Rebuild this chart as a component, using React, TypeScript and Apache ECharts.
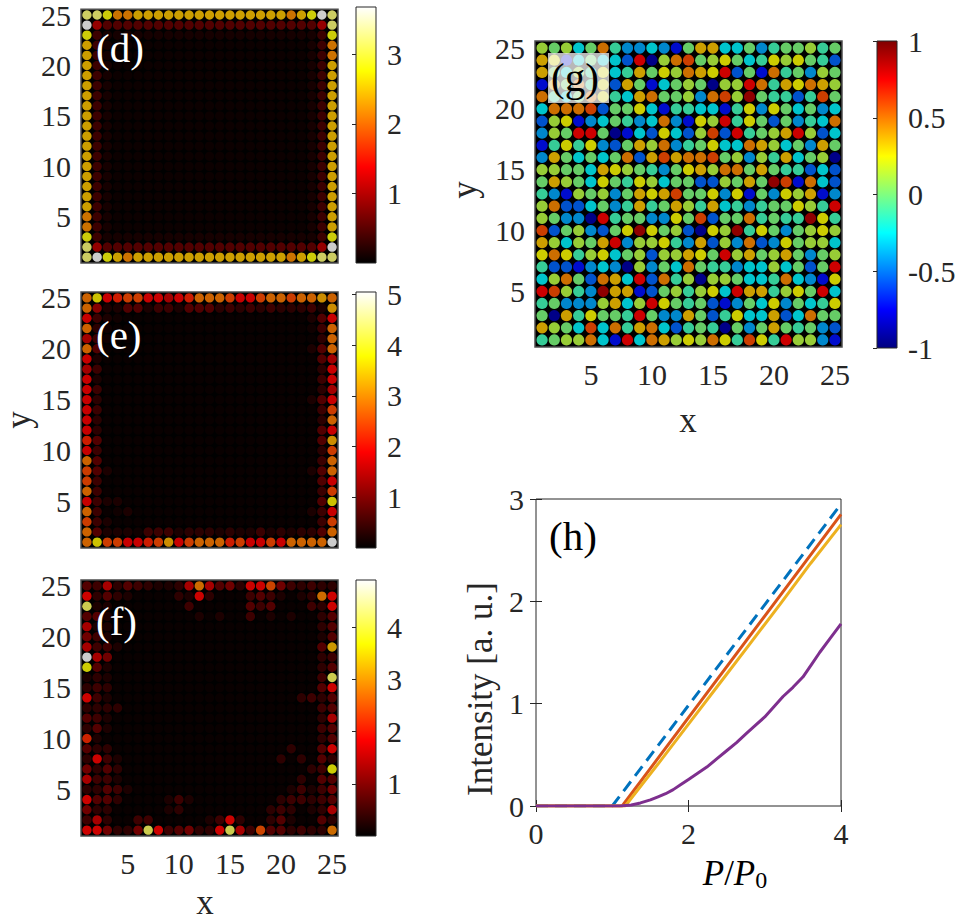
import React, { useEffect, useRef } from "react";
import * as echarts from "echarts";

// ---------------------------------------------------------------------------
// Lattice maps: one string per row, listed from y = 25 (top) down to y = 1,
// one character per site x = 1..25 (spaces only group the columns in fives).
// Intensity maps (d)-(f) use HEAT_LEVELS, phase map (g) uses PHASE_LEVELS.
// ---------------------------------------------------------------------------
const HEAT_LEVELS: Record<string, number> = {
  ".": 0.08, "0": 0.15, "1": 0.25, "2": 0.4, "3": 0.55, "4": 0.75, "5": 1.0,
  "6": 1.25, "7": 1.5, "8": 1.85, "9": 2.15, a: 2.45, b: 2.8, c: 3.2,
  d: 3.45, e: 3.7, f: 4.15, g: 4.5, h: 4.8, i: 5.05,
};

const PHASE_LEVELS: Record<string, number> = {
  "0": -0.92, "1": -0.72, "2": -0.55, "3": -0.42, "4": -0.27, "5": -0.12,
  "6": 0.0, "7": 0.12, "8": 0.25, "9": 0.36, a: 0.48, b: 0.6, c: 0.75, d: 0.9,
};

const mapD = [
  "ccb99 aaaaa aaaaa aaaaa 9abec",
  "e5333 33333 33333 33333 3335c",
  "b2000 00000 00000 00000 0002b",
  "a20.. ..... ..... ..... ..029",
  "a20.. ..... ..... ..... ..029",
  "a20.. ..... ..... ..... ..02a",
  "a20.. ..... ..... ..... ..02a",
  "a20.. ..... ..... ..... ..02a",
  "a20.. ..... ..... ..... ..02a",
  "a20.. ..... ..... ..... ..02a",
  "a20.. ..... ..... ..... ..02a",
  "a20.. ..... ..... ..... ..02a",
  "a20.. ..... ..... ..... ..02a",
  "a20.. ..... ..... ..... ..02a",
  "a20.. ..... ..... ..... ..02a",
  "a20.. ..... ..... ..... ..02a",
  "a20.. ..... ..... ..... ..02a",
  "a20.. ..... ..... ..... ..02a",
  "a20.. ..... ..... ..... ..02a",
  "a20.. ..... ..... ..... ..02a",
  "920.. ..... ..... ..... ..02a",
  "920.. ..... ..... ..... ..02a",
  "b2000 00000 00000 00000 0002b",
  "c5333 33333 33333 33333 3335e",
  "ceba9 aaaaa aaaaa aaaaa 9abcc",
];

const mapE = [
  "be89a a8878 9bbba 88abb abbcb",
  "b6114 41331 44423 23232 2231c",
  "8310. ..... ..... ..... ..148",
  "b20.. ..... ..... ..... ..03b",
  "730.. ..... ..... ..... ...2b",
  "b4... ..... ..... ..... ..14b",
  "81... ..... ..... ..... ...47",
  "73... ..... ..... ..... ...28",
  "81... ..... ..... ..... ...38",
  "83... ..... ..... ..... ...27",
  "82... ..... ..... ..... ..148",
  "83... ..... ..... ..... ...3a",
  "82... ..... ..... ..... ...2b",
  "82... ..... ..... ..... ...48",
  "94... ..... ..... ..... ...4c",
  "83... ..... ..... ..... ...2a",
  "b4... ..... ..... ..... ...3b",
  "a41.. ..... ..... ..... ..14b",
  "a3... ..... ..... ..... ...48",
  "b3... ..... ..... ..... ...3a",
  "8311. ..... ..... ..... ...4e",
  "b3.01 ..... ..... ..... ..138",
  "a31.. ..... ..... ..... ...3a",
  "b4111 03331 22212 11312 1224b",
  "beaa8 89ac8 abbb9 a88a8 bbbbi",
];

const mapF = [
  "43724 32112 7b745 288a5 32322",
  "82421 ....2 182.. .3431 .12b8",
  "f11.. ..... 3.... .434. ..328",
  "441.. ..... .1.1. .3.1. 1..24",
  "711.. ..... ..... ..... ...24",
  "531.. ..... ..... ..... ...14",
  "7331. ..... ..... ..... ...4c",
  "i75.. ..... ..... ..... ...23",
  "e41.. ..... ..... ..... ...24",
  "121.. ..... ..... ..... ...3f",
  "232.. ..... ..... ..... ...48",
  "831.. ..... ..... ..... .2324",
  "2222. ..... ..... ..... ...34",
  "431.. ..... ..... ..... ...27",
  "241.. ..... ..... ..... ...34",
  "91... ..... ..... ..... ...24",
  "422.. ..... ..... ..... 2..48",
  "2831. ..... ..... ....2 .2.42",
  "5242. ..... ..... ..... ..23e",
  "7331. ..... ..... ..... .2.44",
  "22431 ..... ..... ..... 13135",
  "8442. ...13 1.... ....2 33234",
  "522.. ...12 ..... ...23 2.127",
  "372.. 33... ..138 2..24 1..42",
  "88522 5f834 5228f 73a44 2322b",
];

const mapG = [
  "76746 a5334 31699 44635 66756",
  "98146 442c0 7ab67 86458 78652",
  "96475 84596 87a98 c261a 56376",
  "196a5 82961 46760 77ca5 98a97",
  "a546a 8549a 6673a b7d65 525b6",
  "4aaab 26684 15544 15838 64634",
  "27813 46534 a3187 c5862 6354a",
  "376cc 60142 8427b 2c567 9c724",
  "15858 32697 a3568 44a97 46396",
  "39646 46a29 b9aab 67375 94670",
  "77664 98765 36897 aa696 55242",
  "69764 86587 46622 7696d b1a42",
  "53176 73698 9b668 38163 87913",
  "7a224 63595 69759 45356 6875c",
  "76330 c5663 386b2 66a56 55d85",
  "b2673 268d8 67208 7d586 36787",
  "97476 9c377 85392 73a23 86774",
  "8a857 84672 77986 c7967 96367",
  "52213 43073 64a65 53447 4626c",
  "47a62 a94c2 a5707 76445 a4318",
  "cb753 d9912 67578 4c995 786c4",
  "56333 7947c 86562 13648 36458",
  "60958 665c6 33962 58449 24a66",
  "9764b 4a59a 42565 06369 65632",
  "5677a 41c4a 9787a 85b85 c7731",
];

// colour-scale limits of the four maps
const rangeD = [0, 3.68];
const rangeE = [0, 5.05];
const rangeF = [0, 4.9];
const rangeG = [-1, 1];

// tick labels
const latticeTicks = [5, 10, 15, 20, 25];
const ticksD = [1, 2, 3];
const ticksE = [1, 2, 3, 4, 5];
const ticksF = [1, 2, 3, 4];
const ticksG = [-1, -0.5, 0, 0.5, 1];

// (h) output intensity versus pump P/P0
const pumpDashed = [0, 1.0, 4.0];
const intensityDashed = [0, 0, 2.95];
const pumpRed = [0, 1.13, 4.0];
const intensityRed = [0, 0, 2.85];
const pumpYellow = [0, 1.17, 1.6, 2.0, 2.4, 2.8, 3.2, 3.6, 4.0];
const intensityYellow = [0, 0, 0.41, 0.8, 1.19, 1.58, 1.97, 2.37, 2.75];
const pumpPurple = [0, 1.1, 1.25, 1.37, 1.5, 1.6, 1.7, 1.8, 1.9, 2.0, 2.12, 2.24, 2.37, 2.5, 2.63, 2.76, 2.88, 3.0, 3.12, 3.24, 3.37, 3.5, 3.61, 3.72, 3.86, 4.0];
const intensityPurple = [0, 0, 0.01, 0.03, 0.06, 0.09, 0.12, 0.16, 0.21, 0.26, 0.32, 0.38, 0.46, 0.54, 0.62, 0.71, 0.79, 0.87, 0.97, 1.07, 1.16, 1.26, 1.38, 1.5, 1.64, 1.78];

// ---------------------------------------------------------------------------
const SERIF = "Liberation Serif, DejaVu Serif, serif";
const INK = "#262626";
const TICK_FONT = 30;
const LABEL_FONT = 35;

const HOT = ["#000000", "#550000", "#aa0000", "#ff0000", "#ff5500", "#ffaa00", "#ffff00", "#ffff80", "#ffffff"];
const JET = ["#000080", "#0000ff", "#0080ff", "#00ffff", "#80ff80", "#ffff00", "#ff8000", "#ff0000", "#800000"];

function latticePoints(rows: string[], levels: Record<string, number>, fallback: number) {
  const pts: number[][] = [];
  rows.forEach((row, i) => {
    const cells = row.replace(/\s+/g, "");
    const y = rows.length - i;
    for (let j = 0; j < 25; j++) {
      const ch = cells[j];
      const v = ch !== undefined && levels[ch] !== undefined ? levels[ch] : fallback;
      pts.push([j + 1, y, v]);
    }
  });
  return pts;
}

function zip(xs: number[], ys: number[]) {
  return xs.map((x, i) => [x, ys[i]]);
}

function barGradient(colors: string[]) {
  const n = colors.length - 1;
  return new echarts.graphic.LinearGradient(
    0, 0, 0, 1,
    colors.slice().reverse().map((c, i) => ({ offset: i / n, color: c }))
  );
}

const fmt = (v: number) => String(v);

export default function App() {
  const ref = useRef<HTMLDivElement>(null);

  useEffect(() => {
    if (!ref.current) return;
    const chart = echarts.init(ref.current, undefined, { renderer: "svg" });

    const panelGrid = (left: number, top: number, width: number, height: number) => ({
      left, top, width, height, show: true, backgroundColor: "#000",
      borderColor: "#4d4d4d", borderWidth: 1.5, containLabel: false,
    });
    const barGrid = (left: number, top: number, height: number, colors: string[]) => ({
      left, top, width: 20, height, show: true, backgroundColor: barGradient(colors),
      borderColor: INK, borderWidth: 1, containLabel: false,
    });

    const tickLabel = { fontSize: TICK_FONT, fontFamily: SERIF, color: INK };

    const latticeX = (gi: number, labels: boolean) => ({
      type: "value", gridIndex: gi, min: 0.42, max: 25.58,
      axisLine: { show: false }, axisTick: { show: false }, splitLine: { show: false },
      axisLabel: { show: labels, customValues: latticeTicks, margin: 12, ...tickLabel },
    });
    const latticeY = (gi: number) => ({
      type: "value", gridIndex: gi, min: 0.42, max: 25.58,
      axisLine: { show: false }, axisTick: { show: false }, splitLine: { show: false },
      axisLabel: { show: true, customValues: latticeTicks, margin: 10, ...tickLabel },
    });
    const barX = (gi: number) => ({ type: "value", gridIndex: gi, min: 0, max: 1, show: false });
    const barY = (gi: number, range: number[], ticks: number[]) => ({
      type: "value", gridIndex: gi, position: "right", min: range[0], max: range[1],
      axisLine: { show: false }, splitLine: { show: false },
      axisTick: { show: true, inside: true, length: 4, customValues: ticks, lineStyle: { color: INK } },
      axisLabel: { show: true, customValues: ticks, margin: 11, formatter: fmt, ...tickLabel },
    });

    const lattice = (idx: number, rows: string[], levels: Record<string, number>, fallback: number, size: number) => ({
      type: "scatter", xAxisIndex: idx, yAxisIndex: idx, silent: true,
      symbol: "circle", symbolSize: size,
      data: latticePoints(rows, levels, fallback),
    });

    const line = (xs: number[], ys: number[], color: string, dashed = false) => ({
      type: "line", xAxisIndex: 4, yAxisIndex: 4, silent: true, showSymbol: false,
      data: zip(xs, ys), smooth: false,
      lineStyle: { color, width: 3, type: dashed ? [12, 7] : "solid" },
    });

    const labelFont = `${LABEL_FONT}px ${SERIF}`;
    const panelFont = `41px ${SERIF}`;

    const option: any = {
      animation: false,
      backgroundColor: "#ffffff",
      grid: [
        panelGrid(81, 7, 257, 256),     // (d)
        panelGrid(81, 292, 257, 256),   // (e)
        panelGrid(81, 580, 257, 256),   // (f)
        panelGrid(535, 41, 307, 306),   // (g)
        { left: 536, top: 499, width: 305, height: 307, show: true, backgroundColor: "#fff", borderColor: INK, borderWidth: 1 }, // (h)
        barGrid(356, 7, 256, HOT),
        barGrid(356, 292, 256, HOT),
        barGrid(356, 580, 256, HOT),
        barGrid(877, 41, 307, JET),
      ],
      xAxis: [
        latticeX(0, false),
        latticeX(1, false),
        latticeX(2, true),
        latticeX(3, true),
        {
          type: "value", gridIndex: 4, min: 0, max: 4, interval: 2,
          axisLine: { show: false }, splitLine: { show: false },
          axisTick: { show: true, inside: true, length: 6, lineStyle: { color: INK } },
          axisLabel: { margin: 12, ...tickLabel },
        },
        {
          type: "value", gridIndex: 4, position: "top", min: 0, max: 4, interval: 2,
          axisLine: { show: false }, splitLine: { show: false },
          axisTick: { show: true, inside: true, length: 6, lineStyle: { color: INK } },
          axisLabel: { show: false },
        },
        barX(5), barX(6), barX(7), barX(8),
      ],
      yAxis: [
        latticeY(0),
        latticeY(1),
        latticeY(2),
        latticeY(3),
        {
          type: "value", gridIndex: 4, min: 0, max: 3, interval: 1,
          axisLine: { show: false }, splitLine: { show: false },
          axisTick: { show: true, inside: true, length: 6, lineStyle: { color: INK } },
          axisLabel: { margin: 12, ...tickLabel },
        },
        {
          type: "value", gridIndex: 4, position: "right", min: 0, max: 3, interval: 1,
          axisLine: { show: false }, splitLine: { show: false },
          axisTick: { show: true, inside: true, length: 6, lineStyle: { color: INK } },
          axisLabel: { show: false },
        },
        barY(5, rangeD, ticksD),
        barY(6, rangeE, ticksE),
        barY(7, rangeF, ticksF),
        barY(8, rangeG, ticksG),
      ],
      visualMap: [
        { type: "continuous", show: false, seriesIndex: 0, dimension: 2, min: rangeD[0], max: rangeD[1], inRange: { color: HOT } },
        { type: "continuous", show: false, seriesIndex: 1, dimension: 2, min: rangeE[0], max: rangeE[1], inRange: { color: HOT } },
        { type: "continuous", show: false, seriesIndex: 2, dimension: 2, min: rangeF[0], max: rangeF[1], inRange: { color: HOT } },
        { type: "continuous", show: false, seriesIndex: 3, dimension: 2, min: rangeG[0], max: rangeG[1], inRange: { color: JET } },
      ],
      series: [
        lattice(0, mapD, HEAT_LEVELS, 0.08, 9.4),
        lattice(1, mapE, HEAT_LEVELS, 0.08, 9.4),
        lattice(2, mapF, HEAT_LEVELS, 0.08, 9.4),
        lattice(3, mapG, PHASE_LEVELS, 0, 11.2),
        line(pumpDashed, intensityDashed, "#0072BD", true),
        line(pumpRed, intensityRed, "#D95319"),
        line(pumpYellow, intensityYellow, "#EDB120"),
        line(pumpPurple, intensityPurple, "#7E2F8E"),
      ],
      graphic: [
        { type: "text", left: 96, top: 27, z: 10, style: { text: "(d)", fill: "#fff", font: panelFont } },
        { type: "text", left: 96, top: 314, z: 10, style: { text: "(e)", fill: "#fff", font: panelFont } },
        { type: "text", left: 96, top: 600, z: 10, style: { text: "(f)", fill: "#fff", font: panelFont } },
        { type: "rect", z: 10, shape: { x: 548, y: 53, width: 61, height: 50 }, style: { fill: "rgba(255,255,255,0.72)" } },
        { type: "text", left: 551, top: 56, z: 11, style: { text: "(g)", fill: "#000", font: panelFont } },
        { type: "text", left: 549, top: 515, z: 10, style: { text: "(h)", fill: "#000", font: panelFont } },
        {
          type: "text", x: 18, y: 420, rotation: Math.PI / 2, z: 10,
          style: { text: "y", fill: INK, font: labelFont, align: "center", verticalAlign: "middle" },
        },
        {
          type: "text", x: 205, y: 902, z: 10,
          style: { text: "x", fill: INK, font: labelFont, align: "center", verticalAlign: "middle" },
        },
        {
          type: "text", x: 464, y: 190, rotation: Math.PI / 2, z: 10,
          style: { text: "y", fill: INK, font: labelFont, align: "center", verticalAlign: "middle" },
        },
        {
          type: "text", x: 688, y: 420, z: 10,
          style: { text: "x", fill: INK, font: labelFont, align: "center", verticalAlign: "middle" },
        },
        {
          type: "text", x: 480, y: 689, rotation: Math.PI / 2, z: 10,
          style: { text: "Intensity [a. u.]", fill: INK, font: labelFont, align: "center", verticalAlign: "middle" },
        },
        {
          type: "text", x: 735, y: 873, z: 10,
          style: {
            text: "{it|P}{n|/}{it|P}{sub|0}",
            align: "center", verticalAlign: "middle",
            rich: {
              it: { fontSize: LABEL_FONT, fontStyle: "italic", fontFamily: SERIF, color: INK },
              n: { fontSize: LABEL_FONT, fontFamily: SERIF, color: INK },
              sub: { fontSize: 24, fontFamily: SERIF, color: INK, padding: [14, 0, 0, 0] },
            },
          },
        },
      ],
    };

    chart.setOption(option);
    return () => chart.dispose();
  }, []);

  return (
    <div
      ref={ref}
      style={{ position: "fixed", left: 0, top: 0, width: 961, height: 923, background: "#fff" }}
    />
  );
}
